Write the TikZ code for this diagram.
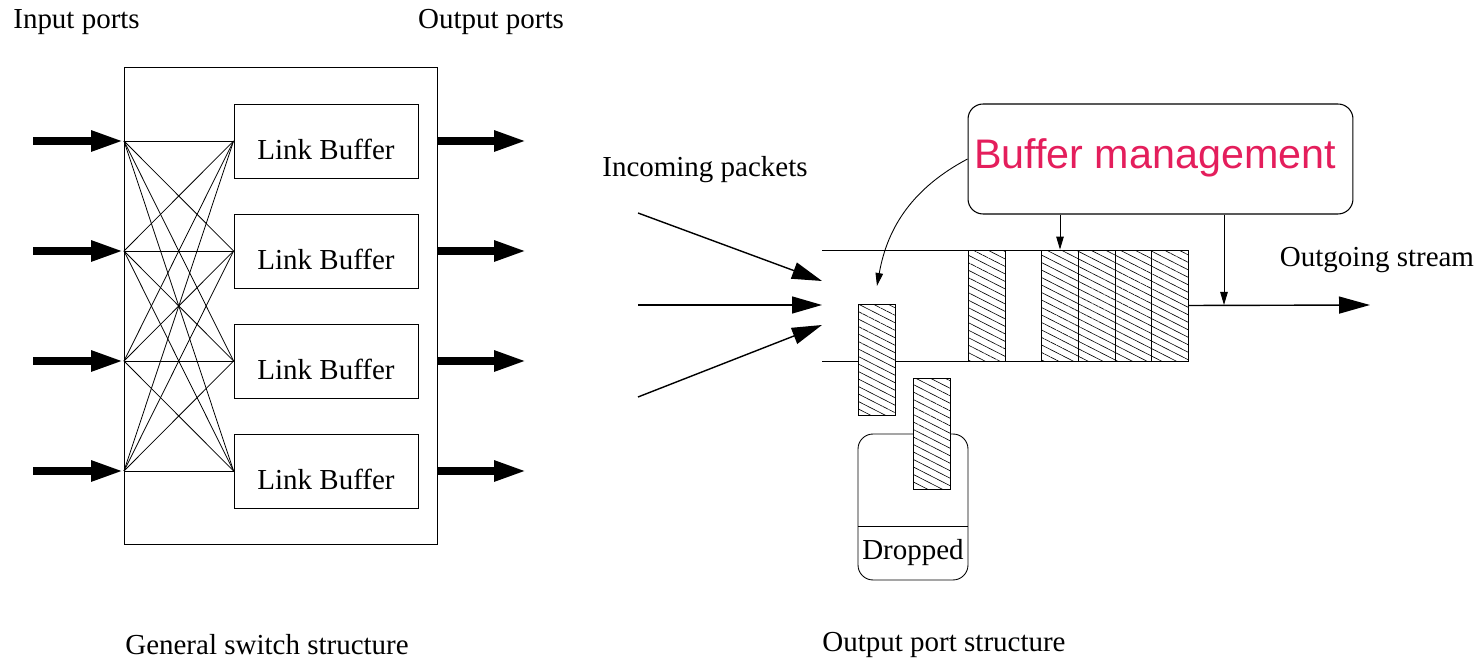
\documentclass[tikz,border=0pt]{standalone}
\usepackage{fontspec}
\setmainfont{Liberation Serif}
\newfontfamily\mgmtfont{Liberation Sans}
\usetikzlibrary{arrows.meta,patterns.meta,shapes.misc}
\definecolor{mgmtred}{RGB}{228,30,92}
\tikzset{
  lbl/.style={font=\fontsize{16.5}{19}\selectfont, inner sep=0pt},
  bufbox/.style={draw, line width=0.5pt, minimum width=3.68cm, minimum height=1.48cm, inner sep=0pt, text height=21pt, text depth=0pt, font=\fontsize{16.5}{19}\selectfont},
  fatarrow/.style={line width=0.16cm, -{Triangle[length=0.66cm,width=0.38cm]}},
  inarrow/.style={line width=0.8pt, -{Triangle[length=0.6cm,width=0.34cm]}},
  smallarrow/.style={line width=0.5pt, -{Triangle[length=0.26cm,width=0.15cm]}},
  pkt/.style={draw, line width=0.5pt, preaction={fill=white}, pattern={Lines[angle=-27,distance=3.8pt,line width=0.35pt]}, minimum width=0.74cm, minimum height=2.22cm, inner sep=0pt},
}
\begin{document}
\begin{tikzpicture}[x=0.02cm, y=-0.02cm]
\useasboundingbox (0,0) rectangle (1482,661);
\node[lbl, anchor=west] (inlbl) at (13,22) {Input ports};
\node[lbl] (outlbl) at (491,22) {Output ports};
\node[draw, line width=0.5pt, minimum width=6.26cm, minimum height=9.54cm, inner sep=0pt] (sw) at (280.5,305.5) {};
\node[bufbox] (buf1) at (326,141) {Link Buffer};
\node[bufbox] (buf2) at (326,251) {Link Buffer};
\node[bufbox] (buf3) at (326,361) {Link Buffer};
\node[bufbox] (buf4) at (326,471) {Link Buffer};
\coordinate (in1) at (124,141);
\coordinate (in2) at (124,251);
\coordinate (in3) at (124,361);
\coordinate (in4) at (124,471);
\foreach \i in {1,...,4}{
  \foreach \j in {1,...,4}{
    \draw[line width=0.45pt] (in\i) -- (buf\j.west);
  }
  \coordinate (ia\i) at (33,0 |- in\i);
  \coordinate (oa\i) at (527,0 |- in\i);
  \draw[fatarrow] (ia\i) -- (in\i);
  \draw[fatarrow] (sw.east |- in\i) -- (oa\i);
}
\node[lbl] (swlbl) at (267,645) {General switch structure};
\node[lbl] (inclbl) at (705,170) {Incoming packets};
\coordinate (qtl) at (822,250);
\coordinate (qtr) at (1188,250);
\coordinate (qbl) at (822,361);
\coordinate (qbr) at (1188,361);
\draw[line width=0.5pt] (qtl) -- (qtr);
\draw[line width=0.5pt] (qbl) -- (qbr);
\coordinate (src1) at (638,213);
\coordinate (src2) at (638,305);
\coordinate (src3) at (638,397);
\coordinate (dst1) at (822,281);
\coordinate (dst2) at (822,305);
\coordinate (dst3) at (822,325);
\draw[inarrow] (src1) -- (dst1);
\draw[inarrow] (src2) -- (dst2);
\draw[inarrow] (src3) -- (dst3);
\node[pkt] (p1) at (986.5,305.5) {};
\node[pkt] (p2) at (1060,305.5) {};
\node[pkt] (p3) at (1096.5,305.5) {};
\node[pkt] (p4) at (1133.5,305.5) {};
\node[pkt] (p5) at (1170,305.5) {};
\coordinate (out) at (1370,305);
\draw[line width=0.8pt, -{Triangle[length=0.62cm,width=0.34cm]}] (p5.east) -- (out);
\node[draw, line width=0.5pt, rounded corners=0.3cm, minimum width=2.2cm, minimum height=2.92cm, inner sep=0pt] (bin) at (913,507) {};
\coordinate (binl) at (858,526);
\coordinate (binr) at (968,526);
\draw[line width=0.5pt] (binl) -- (binr);
\node[lbl] (droplbl) at (913,553) {Dropped};
\node[pkt] (d1) at (876.5,360) {};
\node[pkt] (d2) at (931.5,434) {};
\node[draw, line width=0.6pt, rounded corners=0.3cm, minimum width=7.7cm, minimum height=2.2cm, inner sep=0pt] (mgmt) at (1160.5,159) {};
\node[text=mgmtred, inner sep=0pt, font=\mgmtfont\fontsize{23.5}{28}\selectfont] (mgmtlbl) at (1155,158) {Buffer management};
\coordinate (droptip) at (877,286);
\coordinate (tap) at (1224,305);
\draw[smallarrow] (mgmt.west) to[out=208, in=80] (droptip);
\draw[smallarrow] (mgmt.south -| p2.north) -- (p2.north);
\draw[smallarrow] (mgmt.south -| tap) -- (tap);
\node[lbl] (outslbl) at (1377,260) {Outgoing stream};
\node[lbl] (oplbl) at (944,645) {Output port structure};
\end{tikzpicture}
\end{document}
